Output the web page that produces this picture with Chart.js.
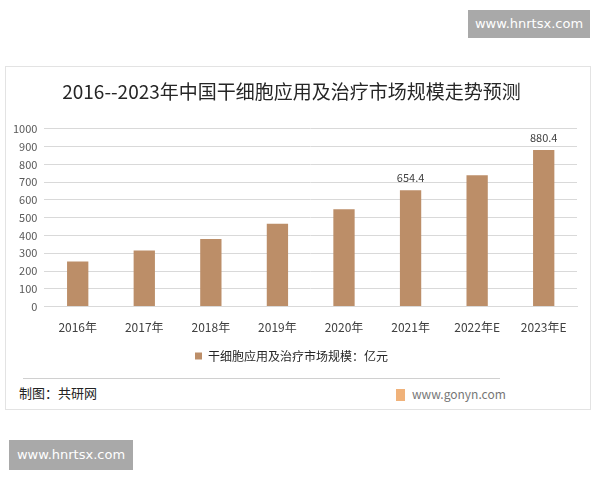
<!DOCTYPE html>
<html>
<head>
<meta charset="utf-8">
<script src="https://cdn.jsdelivr.net/npm/chart.js@4"></script>
<style>
    body { margin: 0; background: #fff; width: 600px; height: 480px; position: relative; overflow: hidden; font-family: "Noto Sans CJK SC", sans-serif; }
    .wm { position: absolute; background: #a9a9a9; color: #fff; font-family: "DejaVu Sans", sans-serif; font-size: 13px; line-height: 28px; text-align: center; }
    #frame { position: absolute; left: 5px; top: 66px; width: 586px; height: 344px; border: 1px solid #e3e3e3; box-sizing: border-box; }
    #box { position: absolute; left: 0; top: 0; width: 584px; height: 305px; }
    #sep { position: absolute; left: 17px; top: 311px; width: 477px; height: 1px; background: #d0d0d0; }
    #src { position: absolute; left: 13px; top: 316px; font-size: 13px; color: #222; }
    #site { position: absolute; left: 390px; top: 318px; font-size: 12px; color: #777; }
    #site span { display: inline-block; width: 9px; height: 12px; background: #f0b27a; margin-right: 7px; vertical-align: -2px; }
</style>
</head>
<body>
<div class="wm" style="left:468px; top:10px; width:122px; height:28px;">www.hnrtsx.com</div>
<div id="frame">
    <div id="box"><canvas id="chart"></canvas></div>
    <div id="sep"></div>
    <div id="src">制图：共研网</div>
    <div id="site"><span></span>www.gonyn.com</div>
</div>
<div class="wm" style="left:9px; top:440px; width:124px; height:30px; line-height:30px;">www.hnrtsx.com</div>

<script>
// data
const years = ['2016年', '2017年', '2018年', '2019年', '2020年', '2021年', '2022年E', '2023年E'];
const sizes = [253, 316, 380, 466, 547, 654.4, 739, 880.4];
const shownLabels = [null, null, null, null, null, '654.4', null, '880.4'];
const yTicks = [0, 100, 200, 300, 400, 500, 600, 700, 800, 900, 1000];

const barColor = 'rgb(188, 142, 104)';

// value labels above some bars
const valueLabels = {
    id: 'valueLabels',
    afterDatasetsDraw(chart) {
        const ctx = chart.ctx;
        const meta = chart.getDatasetMeta(0);
        ctx.save();
        ctx.font = '11px "Noto Sans CJK SC", sans-serif';
        ctx.fillStyle = '#404040';
        ctx.textAlign = 'center';
        ctx.textBaseline = 'bottom';
        meta.data.forEach(function (bar, i) {
            if (shownLabels[i]) {
                ctx.fillText(shownLabels[i], bar.x, bar.y - 7);
            }
        });
        ctx.restore();
    }
};

const config = {
    type: 'bar',
    data: {
        labels: years,
        datasets: [{
            label: '干细胞应用及治疗市场规模：亿元',
            data: sizes,
            backgroundColor: barColor,
            borderWidth: 0,
            barPercentage: 0.64,
            categoryPercentage: 0.5
        }]
    },
    options: {
        responsive: true,
        maintainAspectRatio: false,
        animation: false,
        layout: {
            padding: { left: 0, right: 13, top: 0, bottom: 0 }
        },
        scales: {
            x: {
                grid: { display: false },
                border: { color: '#d9d9d9' },
                ticks: {
                    color: '#404040',
                    font: { size: 12, family: '"Noto Sans CJK SC", sans-serif' },
                    padding: 6
                }
            },
            y: {
                min: 0,
                max: 1000,
                afterBuildTicks(axis) {
                    axis.ticks = yTicks.map(v => ({ value: v }));
                },
                grid: { color: '#d9d9d9', drawTicks: false },
                border: { display: false },
                ticks: {
                    color: '#595959',
                    font: { size: 11, family: '"Noto Sans CJK SC", sans-serif' },
                    padding: 7,
                    callback: function (v) { return String(v); }
                }
            }
        },
        plugins: {
            title: {
                display: true,
                text: '2016--2023年中国干细胞应用及治疗市场规模走势预测',
                color: '#262626',
                font: { size: 19, weight: 'normal', family: '"Noto Sans CJK SC", sans-serif' },
                padding: { top: 13, bottom: 26 }
            },
            legend: {
                position: 'bottom',
                labels: {
                    color: '#262626',
                    font: { size: 12, family: '"Noto Sans CJK SC", sans-serif' },
                    boxWidth: 7,
                    boxHeight: 7,
                    padding: 9
                }
            },
            tooltip: { enabled: false }
        }
    },
    plugins: [valueLabels]
};

var myChart = new Chart(document.getElementById('chart'), config);
</script>
</body>
</html>
